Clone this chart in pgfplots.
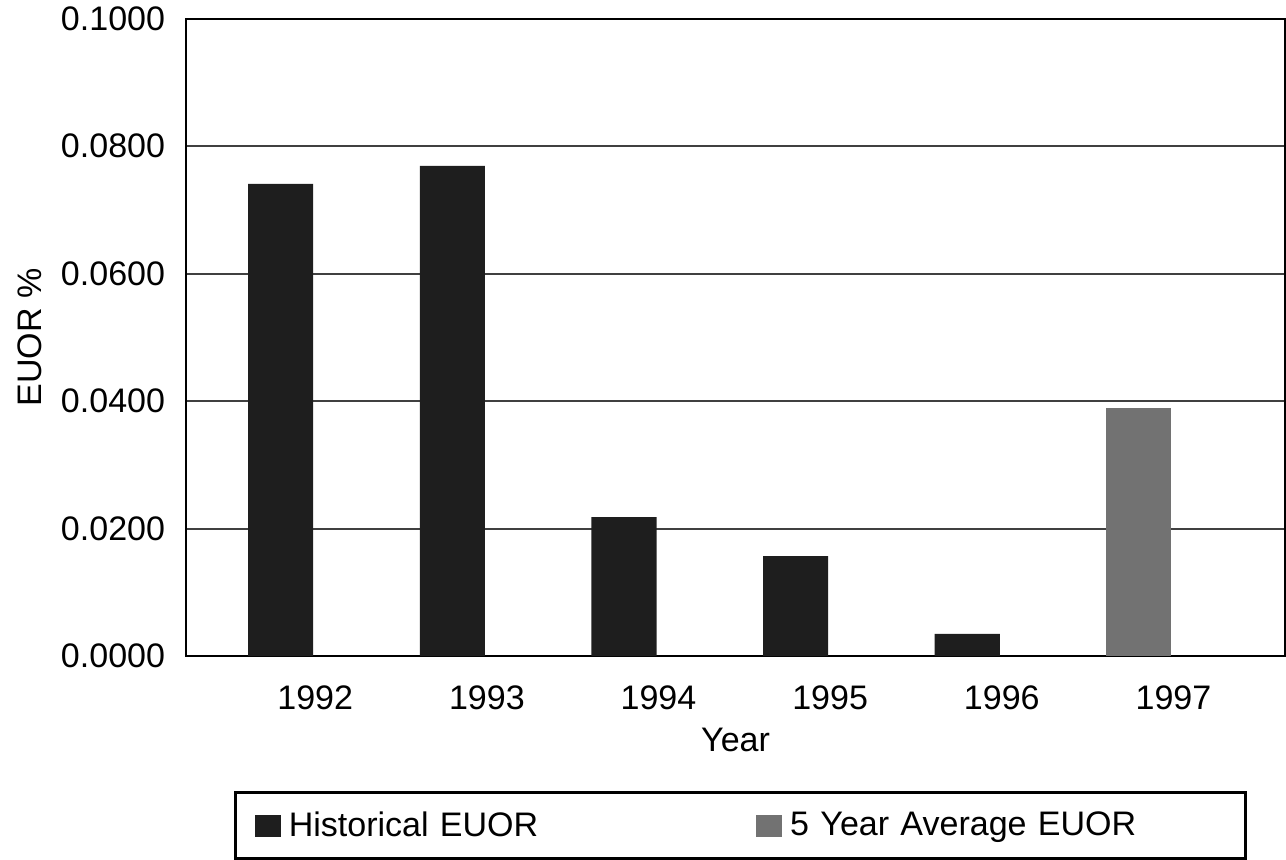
\documentclass[border=0pt]{standalone}
\usepackage{pgfplots}
\pgfplotsset{compat=1.18}
\usepackage{fontspec}
\setmainfont{Liberation Sans}
\definecolor{histbar}{HTML}{1E1E1E}
\definecolor{avgbar}{HTML}{727272}
\begin{document}
\begin{tikzpicture}
\begin{axis}[
scale only axis,
width=549pt, height=318.5pt,
ybar,
bar width=32.5pt,
xmin=-0.752, xmax=5.65,
ymin=0, ymax=0.1,
xtick={0,1,2,3,4,5},
xticklabels={1992,1993,1994,1995,1996,1997},
ytick={0,0.02,0.04,0.06,0.08,0.1},
yticklabels={0.0000,0.0200,0.0400,0.0600,0.0800,0.1000},
major tick length=0pt,
ymajorgrids,
grid style={line width=0.9pt, draw=black!75},
axis line style={line width=1pt},
ticklabel style={font=\fontsize{17}{20}\selectfont},
yticklabel style={xshift=-7pt},
xticklabel style={yshift=-11pt},
label style={font=\fontsize{17}{20}\selectfont},
xlabel={Year},
ylabel={EUOR \%},
xlabel style={yshift=-2.5pt},
ylabel style={yshift=2.5pt},
legend columns=2,
legend style={
  at={(0.5046,-0.212)}, anchor=north,
  draw=black, line width=1.3pt,
  font=\fontsize{17}{20}\selectfont,
  nodes={text width=214pt, inner sep=4pt},
  inner xsep=9.5pt, inner ysep=5.5pt,
  /tikz/every even column/.append style={column sep=15.5pt},
},
legend image code/.code={\fill[#1, draw=none] (0pt,-5.5pt) rectangle (13pt,5.5pt);},
]
\addplot[fill=histbar, draw=none, bar shift=-17.25pt]
coordinates{ (0,0.0741) (1,0.0769) (2,0.0218) (3,0.0157) (4,0.0035) };
\addplot[fill=avgbar, draw=none, bar shift=-17.25pt]
coordinates{ (5,0.0389) };
\legend{Historical EUOR, 5 Year Average EUOR}
\end{axis}
\path (current axis.south west) ++(-93pt,0pt);
\end{tikzpicture}
\end{document}
